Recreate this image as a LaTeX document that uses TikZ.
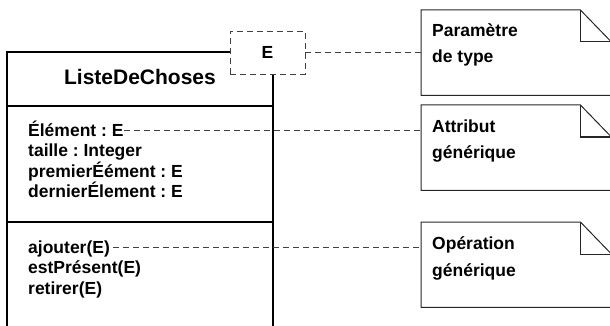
\documentclass[tikz,border=0pt]{standalone}
\usepackage{fontspec}
\setmainfont{Liberation Sans}
\begin{document}
\frenchspacing
\begin{tikzpicture}[x=1pt,y=-1pt,
  txt/.style={anchor=base west, inner sep=0pt, font=\bfseries\fontsize{17.5}{20}\selectfont},
  titletxt/.style={anchor=base, inner sep=0pt, font=\bfseries\fontsize{21}{25}\selectfont},
  boxline/.style={line width=1.1pt, black},
  noteline/.style={line width=1pt, black!85},
  dashline/.style={line width=0.9pt, black!75, dash pattern=on 6pt off 4pt},
  notebox/.style={anchor=north west, inner sep=0pt, minimum width=190pt, minimum height=85pt},
  parambox/.style={draw=black!75, line width=0.9pt, dash pattern=on 6pt off 4pt, minimum width=75pt, minimum height=43pt, inner sep=0pt, font=\bfseries\fontsize{17.5}{20}\selectfont}]
\useasboundingbox (0,0) rectangle (610,326);
\clip (0,0) rectangle (610,326);

% class box
\draw[boxline] (230,52) -- (7,52) -- (7,330);
\draw[boxline] (273,74) -- (273,330);
\draw[boxline] (7,106) -- (273,106);
\draw[boxline] (7,222) -- (273,222);

% template parameter box
\node[parambox, fill=white] (ebox) at (267.5,52.5) {E};

% title
\node[titletxt] (title) at (140,85) {ListeDeChoses};

% attributes
\node[txt] (a1) at (28,136) {Élément : E};
\node[txt] (a2) at (28,157) {taille : Integer};
\node[txt] (a3) at (28,177) {premierÉément : E};
\node[txt] (a4) at (28,197) {dernierÉlement : E};

% operations
\node[txt] (o1) at (28,253) {ajouter(E)};
\node[txt] (o2) at (28,273) {estPrésent(E)};
\node[txt] (o3) at (28,294) {retirer(E)};

% notes
\node[notebox] (n1) at (421,10) {};
\node[notebox] (n2) at (421,105) {};
\node[notebox] (n3) at (421,222) {};
\foreach \n in {n1,n2,n3}{
  \draw[noteline] (\n.north west) -- ([xshift=-31pt]\n.north east) coordinate (\n f)
     -- ([yshift=-32pt]\n.north east) -- (\n.south east) -- (\n.south west) -- cycle;
  \draw[noteline] (\n f) |- ([yshift=-32pt]\n.north east);
}
\node[txt] (n1t1) at (432,37) {Paramètre};
\node[txt] (n1t2) at (432,63) {de type};
\node[txt] (n2t1) at (432,132) {Attribut};
\node[txt] (n2t2) at (432,158) {générique};
\node[txt] (n3t1) at (432,249) {Opération};
\node[txt] (n3t2) at (432,276) {générique};

% connectors
\draw[dashline] (ebox.east) -- (ebox.east -| n1.west);
\draw[dashline] ([yshift=6pt]a1.base east) coordinate (c1) -- (c1 -| n2.west);
\draw[dashline] ([xshift=3pt,yshift=6pt]o1.base east) coordinate (c2) -- (c2 -| n3.west);
\end{tikzpicture}
\end{document}
